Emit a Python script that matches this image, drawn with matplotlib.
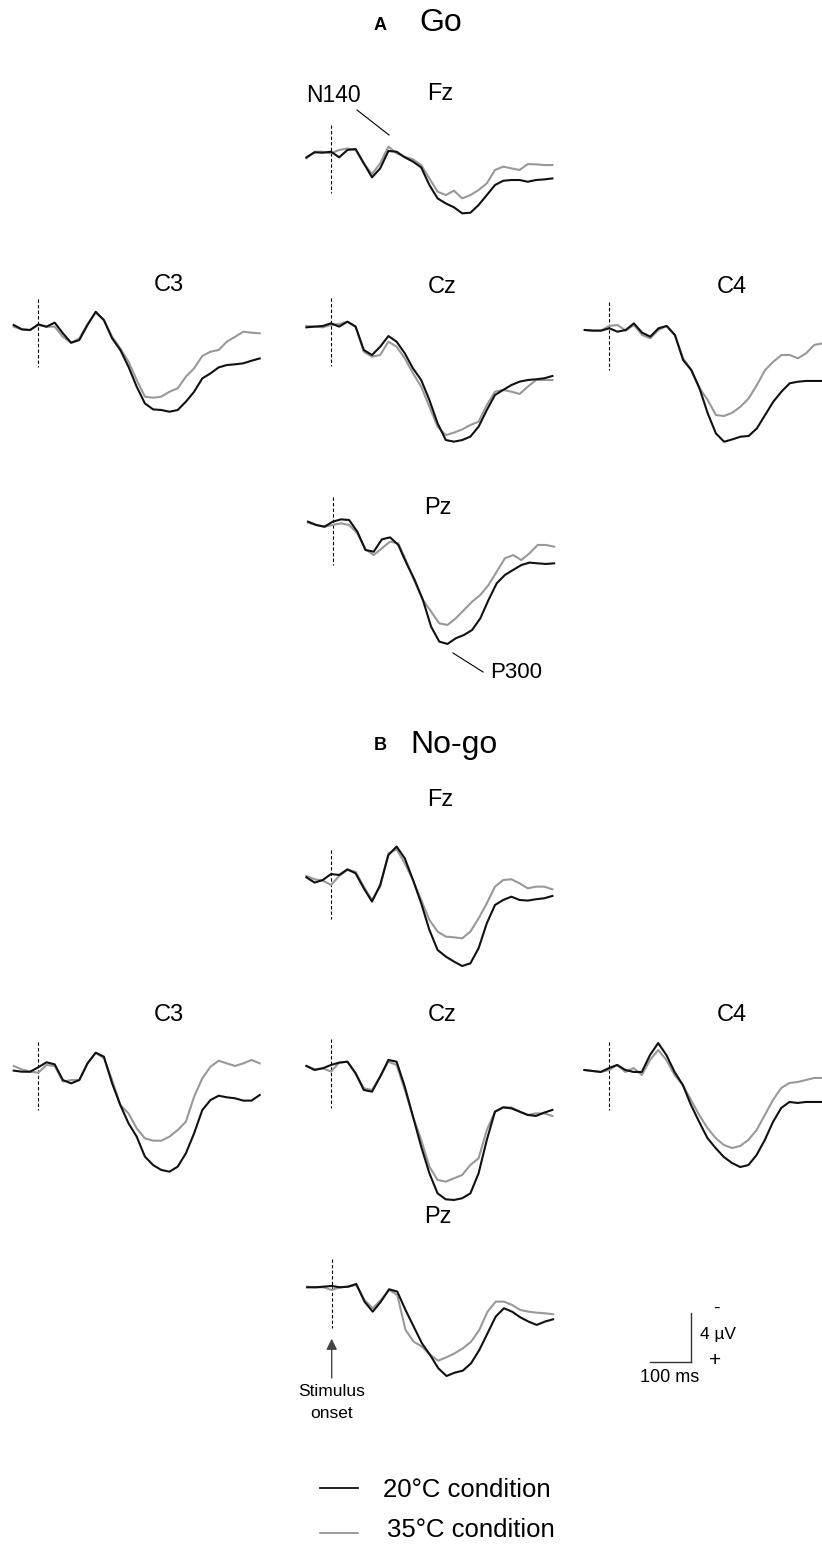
import matplotlib
matplotlib.use('Agg')
import matplotlib.pyplot as plt
import numpy as np
from matplotlib.lines import Line2D

plt.rcParams['font.family'] = ['Liberation Sans', 'DejaVu Sans']

# sample times (ms) relative to stimulus onset
t_ms = np.arange(-60, 541, 20)

# grand-average amplitudes (uV), negative plotted upwards
go_fz_20 = [0.38, -0.03, 0, -0.08, 0.38, -0.22, -0.3, 0.87, 2.01, 1.28, -0.14, -0.08, 0.38, 0.73, 1.2, 2.64,
            3.73, 4.14, 4.46, 4.95, 4.9, 4.27, 3.46, 2.64, 2.29, 2.23, 2.23, 2.37, 2.23, 2.18, 2.1]
go_fz_35 = [0.46, -0.08, -0.08, 0.05, -0.22, -0.35, -0.22, 0.87, 1.74, 0.87, -0.49, 0.05, 0.33, 0.54, 1.01, 2.1,
            3.18, 3.46, 3.1, 3.73, 3.46, 3.05, 2.5, 1.41, 1.14, 1.28, 1.41, 0.93, 0.95, 1.01, 1.01]
go_c3_20 = [-0.14, 0.22, 0.27, -0.19, 0, -0.33, 0.54, 1.31, 1.09, -0.14, -1.22, -0.54, 0.95, 1.9, 3.27, 4.9,
            6.26, 6.75, 6.8, 6.94, 6.8, 6.12, 5.31, 4.22, 3.81, 3.32, 3.13, 3.07, 2.99, 2.78, 2.59]
go_c3_35 = [0, 0.22, 0.27, -0.14, 0, 0, 0.82, 1.31, 0.95, -0.22, -1.14, -0.54, 0.82, 1.77, 2.86, 4.35,
            5.71, 5.8, 5.71, 5.31, 5.03, 4.08, 3.4, 2.39, 2.04, 1.9, 1.22, 0.82, 0.41, 0.49, 0.54]
go_cz_20 = [0.11, 0.05, 0, -0.22, 0.05, -0.35, 0.05, 1.96, 2.37, 1.69, 0.82, 1.28, 2.23, 3.46, 4.41, 6.04,
            7.95, 9.31, 9.44, 9.31, 9.03, 8.22, 6.86, 5.63, 5.22, 4.82, 4.54, 4.41, 4.35, 4.27, 4.08]
go_cz_35 = [0, 0.05, 0.11, -0.08, -0.16, -0.35, 0.05, 2.1, 2.5, 2.37, 1.28, 1.69, 2.64, 3.86, 4.95, 6.59,
            8.22, 8.9, 8.71, 8.44, 8.08, 7.81, 6.45, 5.36, 5.22, 5.36, 5.55, 4.95, 4.41, 4.41, 4.41]
go_c4_20 = [0, 0.05, 0.05, -0.14, 0.14, 0, -0.54, 0.22, 0.54, -0.14, -0.33, 0.41, 2.45, 3.27, 4.76, 6.8,
            8.44, 9.12, 8.93, 8.71, 8.65, 8.03, 6.94, 5.85, 5.03, 4.35, 4.22, 4.16, 4.16, 4.16, 4.16]
go_c4_35 = [0, 0.05, 0.05, -0.33, -0.41, 0.05, -0.41, 0.41, 0.68, 0, -0.33, 0.41, 2.31, 3.27, 4.76, 5.71,
            6.94, 7.02, 6.75, 6.26, 5.58, 4.49, 3.27, 2.59, 2.04, 2.04, 2.31, 1.9, 1.22, 1.09, 1.09]
go_pz_20 = [-0.27, 0, 0.14, -0.27, -0.46, -0.41, 0.54, 2.04, 2.18, 1.17, 1.01, 1.63, 3.13, 4.49, 6.12, 8.3,
            9.52, 9.71, 9.25, 8.98, 8.57, 7.62, 6.12, 4.76, 4.08, 3.67, 3.27, 3.07, 3.13, 3.18, 3.13]
go_pz_35 = [-0.19, 0, 0.14, 0, -0.14, 0, 0.68, 1.99, 2.45, 1.9, 1.36, 1.5, 2.99, 4.63, 6.12, 7.07,
            8.03, 8.16, 7.62, 6.94, 6.26, 5.71, 4.9, 3.81, 2.72, 2.45, 2.86, 2.31, 1.63, 1.63, 1.77]

nogo_fz_20 = [-0.08, 0.35, 0.14, -0.35, -0.27, -0.73, -0.41, 0.82, 1.9, 0.54, -1.9, -2.59, -1.63, 0.14, 2.04, 4.22,
              5.85, 6.39, 6.8, 7.16, 6.94, 5.71, 3.67, 2.18, 1.77, 1.5, 1.77, 1.82, 1.71, 1.63, 1.44]
nogo_fz_35 = [-0.19, 0.08, 0.19, 0.54, -0.19, -0.68, -0.54, 0.68, 1.77, 0.68, -2.04, -2.37, -1.22, 0.14, 1.77, 3.4,
              4.35, 4.76, 4.82, 4.9, 4.35, 3.27, 2.04, 0.68, 0.14, 0.08, 0.41, 0.82, 0.68, 0.68, 0.9]
nogo_c3_20 = [0.05, 0.14, 0.14, -0.22, -0.63, -0.46, 0.82, 1.09, 0.82, -0.54, -1.41, -1.09, 1.09, 2.86, 4.35, 5.44,
              7.07, 7.76, 8.16, 8.3, 7.89, 6.8, 5.17, 3.27, 2.45, 2.1, 2.23, 2.31, 2.5, 2.5, 2.04]
nogo_c3_35 = [-0.33, -0.05, 0.14, 0.22, -0.41, -0.33, 0.95, 0.82, 0.82, -0.54, -1.41, -0.95, 0.82, 2.86, 3.54, 4.76,
              5.58, 5.77, 5.77, 5.44, 4.9, 4.22, 2.18, 0.68, -0.27, -0.76, -0.54, -0.33, -0.54, -0.82, -0.54]
nogo_cz_20 = [-0.11, 0.22, 0.08, -0.19, -0.38, -0.46, 0.49, 1.85, 1.99, 0.76, -0.6, -0.46, 1.58, 4.03, 6.48, 8.65,
              10.29, 10.78, 10.83, 10.69, 10.29, 8.65, 5.93, 3.62, 3.27, 3.35, 3.62, 3.89, 3.97, 3.7, 3.48]
nogo_cz_35 = [-0.11, 0.16, 0.08, 0.35, -0.38, -0.46, 0.49, 1.71, 1.85, 0.76, -0.46, -0.19, 1.85, 4.03, 5.93, 8.11,
              9.2, 9.33, 9.06, 8.79, 7.97, 7.43, 5.12, 3.62, 3.27, 3.27, 3.62, 3.89, 3.76, 3.76, 3.97]
nogo_c4_20 = [0, 0.08, 0.16, -0.16, -0.41, 0, 0.16, 0.16, -1.22, -2.2, -1.22, 0.16, 1.22, 2.86, 4.24, 5.55,
              6.37, 7.1, 7.59, 7.92, 7.76, 6.94, 5.71, 4.24, 3.1, 2.61, 2.69, 2.61, 2.61, 2.61, 2.61]
nogo_c4_35 = [0, 0.08, 0.16, 0, -0.41, 0.16, -0.16, 0.41, -0.82, -1.63, -0.82, 0.41, 1.22, 2.45, 3.67, 4.73,
              5.55, 6.12, 6.37, 6.2, 5.71, 4.9, 3.67, 2.45, 1.47, 1.06, 0.98, 0.82, 0.65, 0.65, 0.65]
nogo_pz_20 = [0, 0, -0.05, -0.11, 0, -0.05, -0.27, 1.17, 1.99, 1.17, 0.16, 0.35, 1.85, 3.21, 4.57, 5.52,
              6.61, 7.24, 6.97, 6.8, 6.2, 5.12, 3.76, 2.39, 1.71, 1.99, 2.45, 2.8, 3.07, 2.8, 2.61]
nogo_pz_35 = [-0.05, 0, 0, 0.22, 0, -0.05, -0.19, 1.03, 1.71, 1.03, 0.22, 0.63, 3.48, 4.44, 4.84, 5.52,
              5.99, 5.71, 5.39, 4.98, 4.44, 3.48, 1.99, 1.17, 1.17, 1.44, 1.85, 1.99, 2.07, 2.12, 2.2]

# scale bar size
scale_ms = 100
scale_uv = 4

W, H = 822, 1548
PX_PER_MS = 0.41
PX_PER_UV = 12.25
T_LIM = (-60, 540)
V_LIM = (12, -5)
BLACK = '#111111'
GREY = '#999999'

fig = plt.figure(figsize=(W / 100, H / 100), dpi=100)


def fx(x):
    return x / W


def fy(y):
    return 1 - y / H


def add_panel(onset_px, base_px):
    """Axes in ms / uV whose time zero and baseline sit at the given pixel."""
    left = onset_px + T_LIM[0] * PX_PER_MS
    top = base_px + V_LIM[1] * PX_PER_UV
    w = (T_LIM[1] - T_LIM[0]) * PX_PER_MS
    h = (V_LIM[0] - V_LIM[1]) * PX_PER_UV
    ax = fig.add_axes([left / W, 1 - (top + h) / H, w / W, h / H])
    ax.set_xlim(*T_LIM)
    ax.set_ylim(*V_LIM)
    ax.axis('off')
    return ax


# (label, onset x, baseline y, label x, label y, 20C, 35C)
panels = [
    ('Fz', 331, 152.7, 440, 94, go_fz_20, go_fz_35),
    ('C3', 38.3, 326.7, 169, 285, go_c3_20, go_c3_35),
    ('Cz', 331, 326, 442, 287, go_cz_20, go_cz_35),
    ('C4', 609.3, 330, 732, 287, go_c4_20, go_c4_35),
    ('Pz', 332.7, 525, 438, 508, go_pz_20, go_pz_35),
    ('Fz', 331, 878.3, 440, 800, nogo_fz_20, nogo_fz_35),
    ('C3', 38.3, 1070, 169, 1015, nogo_c3_20, nogo_c3_35),
    ('Cz', 331, 1067.3, 442, 1015, nogo_cz_20, nogo_cz_35),
    ('C4', 609, 1070, 732, 1015, nogo_c4_20, nogo_c4_35),
    ('Pz', 331.7, 1287.3, 438, 1217, nogo_pz_20, nogo_pz_35),
]

axes = []
for name, onset, base, lx, ly, v20, v35 in panels:
    ax = add_panel(onset, base)
    ax.plot([0, 0], [-2.3, 3.3], color='black', lw=0.8, ls=(0, (3, 2)))
    ax.plot(t_ms, v35, color=GREY, lw=1.5, clip_on=False)
    ax.plot(t_ms, v20, color=BLACK, lw=1.5, clip_on=False)
    fig.text(fx(lx), fy(ly), name, fontsize=17, ha='center', va='center')
    axes.append(ax)

# section headings
fig.text(fx(380), fy(25), 'A', fontsize=13, fontweight='bold', ha='center', va='center')
fig.text(fx(441), fy(23), 'Go', fontsize=23, ha='center', va='center')
fig.text(fx(380), fy(745), 'B', fontsize=13, fontweight='bold', ha='center', va='center')
fig.text(fx(410), fy(745), 'No-go', fontsize=23, ha='left', va='center')

# component labels
fig.text(fx(333), fy(96), 'N140', fontsize=16.5, ha='center', va='center')
fig.add_artist(Line2D([fx(357), fx(389)], [fy(110), fy(135)], color='black', lw=0.8))
fig.text(fx(516), fy(672), 'P300', fontsize=16, ha='center', va='center')
fig.add_artist(Line2D([fx(453), fx(483)], [fy(653), fy(672)], color='black', lw=0.8))

# stimulus onset arrow under the no-go Pz trace
axes[-1].annotate('', xy=(0, 4.2), xytext=(0, 7.4),
                  arrowprops=dict(arrowstyle='-|>', color='#444444', lw=1.0,
                                  mutation_scale=16, shrinkA=0, shrinkB=0),
                  annotation_clip=False)
fig.text(fx(332), fy(1392), 'Stimulus', fontsize=12.5, ha='center', va='center')
fig.text(fx(332), fy(1413), 'onset', fontsize=12.5, ha='center', va='center')

# scale bar
sax = add_panel(650, 1362)
sax.plot([0, scale_ms], [0, 0], color='#333333', lw=1.0, clip_on=False)
sax.plot([scale_ms, scale_ms], [0, -scale_uv], color='#333333', lw=1.0, clip_on=False)
fig.text(fx(716), fy(1308), '-', fontsize=14, ha='center', va='center')
fig.text(fx(718), fy(1335), '4 \u00b5V', fontsize=12.5, ha='center', va='center')
fig.text(fx(715), fy(1360), '+', fontsize=15, ha='center', va='center')
fig.text(fx(670), fy(1377), '100 ms', fontsize=13, ha='center', va='center')

# legend
fig.add_artist(Line2D([fx(320), fx(358)], [fy(1488), fy(1488)], color=BLACK, lw=1.3))
fig.text(fx(383), fy(1490), '20\u00b0C condition', fontsize=18.5, ha='left', va='center')
fig.add_artist(Line2D([fx(320), fx(358)], [fy(1533), fy(1533)], color='#808080', lw=1.1))
fig.text(fx(387), fy(1530), '35\u00b0C condition', fontsize=18.5, ha='left', va='center')

fig.savefig('out.png', dpi=100)
